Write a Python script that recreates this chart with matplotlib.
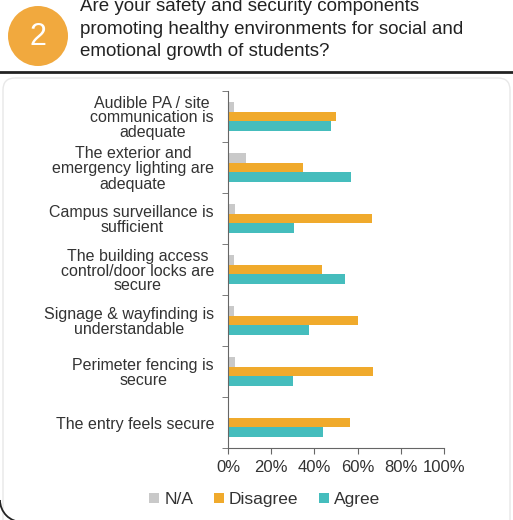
import numpy as np
import matplotlib.pyplot as plt
from matplotlib.patches import Circle, Arc, FancyBboxPatch

# data (percent of responses)
categories = [
    "Audible PA / site\ncommunication is\nadequate",
    "The exterior and\nemergency lighting are\nadequate",
    "Campus surveillance is\nsufficient",
    "The building access\ncontrol/door locks are\nsecure",
    "Signage & wayfinding is\nunderstandable",
    "Perimeter fencing is\nsecure",
    "The entry feels secure",
]
na_vals = [2.6, 8.2, 3.1, 2.6, 2.6, 3.1, 0.0]
disagree_vals = [49.8, 34.9, 66.8, 43.7, 60.0, 67.2, 56.3]
agree_vals = [47.8, 57.0, 30.6, 54.0, 37.7, 30.0, 43.9]
series_names = ["N/A", "Disagree", "Agree"]
xticks = [0, 20, 40, 60, 80, 100]

colors = ["#C9C9C9", "#F0AA2C", "#45BDBD"]
plt.rcParams["font.family"] = ["Liberation Sans", "DejaVu Sans"]

W, H = 513, 520
fig = plt.figure(figsize=(W / 100, H / 100), dpi=100)

# overlay in pixel coordinates for the card decorations
bg = fig.add_axes([0, 0, 1, 1], zorder=0)
bg.set_xlim(0, W)
bg.set_ylim(H, 0)
bg.axis("off")
bg.add_patch(FancyBboxPatch((3, 78), W - 6, 480, boxstyle="round,pad=0,rounding_size=12",
                            fill=False, edgecolor="#E8E8E8", linewidth=1))
bg.add_patch(Arc((22, 500), 44, 44, theta1=90, theta2=180, color="#222222", linewidth=1.3))
bg.plot([0, 512], [72, 72], color="#222222", linewidth=2)
bg.add_patch(Circle((38, 36), 30, facecolor="#F1A93E", edgecolor="none"))
bg.text(38, 37, "2", color="white", fontsize=22, ha="center", va="center")
bg.text(80, 29,
        "Are your safety and security components\npromoting healthy environments for social and\nemotional growth of students?",
        fontsize=13.5, color="#222222", ha="left", va="center", linespacing=1.42)

ax = fig.add_axes([228 / W, 72 / H, 216 / W, 357 / H], zorder=1)
ax.patch.set_alpha(0)
y = np.arange(len(categories))
h = 0.19
ax.barh(y - h, na_vals, height=h, color=colors[0], label=series_names[0])
ax.barh(y, disagree_vals, height=h, color=colors[1], label=series_names[1])
ax.barh(y + h, agree_vals, height=h, color=colors[2], label=series_names[2])

ax.set_ylim(len(categories) - 0.5, -0.5)
ax.set_xlim(0, 100)
ax.set_yticks(y)
ax.set_yticklabels(categories, fontsize=11.5, color="#333333", multialignment="center",
                   linespacing=1.0)
ax.set_yticks(np.arange(-0.5, len(categories), 1), minor=True)
ax.tick_params(axis="y", which="major", length=0, pad=10)
ax.tick_params(axis="y", which="minor", length=4, color="#666666")
ax.set_xticks(xticks)
ax.set_xticklabels([f"{v}%" for v in xticks], fontsize=12, color="#333333")
ax.tick_params(axis="x", length=4, color="#666666", pad=5)
for s in ["top", "right"]:
    ax.spines[s].set_visible(False)
for s in ["left", "bottom"]:
    ax.spines[s].set_color("#666666")

ax.legend(loc="upper center", bbox_to_anchor=(0.17, -0.08), ncol=3, frameon=False,
          fontsize=12.5, handlelength=0.55, handleheight=0.55, handletextpad=0.3,
          columnspacing=1.2, labelcolor="#333333")

fig.savefig("out.png", dpi=100)
